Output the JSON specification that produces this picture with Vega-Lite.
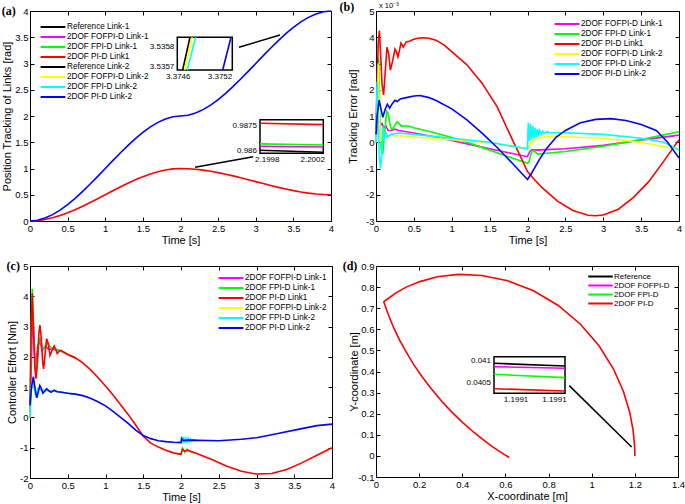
{
"$schema": "https://vega.github.io/schema/vega-lite/v6.json",
"background": "white",
"padding": {"left": 1, "top": 0, "right": 0, "bottom": 0},
"config": {
 "view": {"stroke": "black", "strokeWidth": 1},
 "font": "Liberation Sans",
 "axis": {"labelFont": "Liberation Sans", "labelFontSize": 9.5, "labelColor": "black", "titleFont": "Liberation Sans", "titleFontSize": 11, "titleFontWeight": "normal", "titleColor": "black", "domainColor": "black", "domainWidth": 1, "tickColor": "black", "tickSize": -4, "tickWidth": 1, "grid": false, "labelPadding": 6, "titlePadding": 2, "labelFlush": false, "labelOverlap": false, "minExtent": 0},
 "legend": {"orient": "none", "direction": "vertical", "symbolType": "M-3.1,0L3.1,0", "symbolSize": 64, "symbolStrokeWidth": 2, "labelFont": "Liberation Sans", "labelFontSize": 8.2, "labelColor": "black", "labelOffset": 9, "rowPadding": 1, "padding": 0, "labelLimit": 300},
 "title": {"font": "Liberation Serif", "fontSize": 12, "fontWeight": "bold", "anchor": "start", "frame": "bounds", "offset": -12, "color": "black"},
 "text": {"font": "Liberation Sans", "fontSize": 8, "color": "black"}
},
"datasets": {
 "a": [
  {"t":0,"v":0,"s":"2DOF PI-D Link1"},{"t":0.1,"v":0.00725,"s":"2DOF PI-D Link1"},{"t":0.2,"v":0.028,"s":"2DOF PI-D Link1"},{"t":0.3,"v":0.06075,"s":"2DOF PI-D Link1"},{"t":0.4,"v":0.104,"s":"2DOF PI-D Link1"},{"t":0.5,"v":0.15625,"s":"2DOF PI-D Link1"},{"t":0.6,"v":0.216,"s":"2DOF PI-D Link1"},{"t":0.7,"v":0.28175,"s":"2DOF PI-D Link1"},{"t":0.8,"v":0.352,"s":"2DOF PI-D Link1"},{"t":0.9,"v":0.42525,"s":"2DOF PI-D Link1"},{"t":1.0,"v":0.5,"s":"2DOF PI-D Link1"},{"t":1.1,"v":0.57475,"s":"2DOF PI-D Link1"},{"t":1.2,"v":0.648,"s":"2DOF PI-D Link1"},{"t":1.3,"v":0.71825,"s":"2DOF PI-D Link1"},{"t":1.4,"v":0.784,"s":"2DOF PI-D Link1"},{"t":1.5,"v":0.84375,"s":"2DOF PI-D Link1"},{"t":1.6,"v":0.896,"s":"2DOF PI-D Link1"},{"t":1.7,"v":0.93925,"s":"2DOF PI-D Link1"},{"t":1.8,"v":0.972,"s":"2DOF PI-D Link1"},{"t":1.9,"v":0.99275,"s":"2DOF PI-D Link1"},{"t":2.0,"v":1,"s":"2DOF PI-D Link1"},{"t":2.1,"v":0.99637,"s":"2DOF PI-D Link1"},{"t":2.2,"v":0.986,"s":"2DOF PI-D Link1"},{"t":2.3,"v":0.96962,"s":"2DOF PI-D Link1"},{"t":2.4,"v":0.948,"s":"2DOF PI-D Link1"},{"t":2.5,"v":0.92188,"s":"2DOF PI-D Link1"},{"t":2.6,"v":0.892,"s":"2DOF PI-D Link1"},{"t":2.7,"v":0.85913,"s":"2DOF PI-D Link1"},{"t":2.8,"v":0.824,"s":"2DOF PI-D Link1"},{"t":2.9,"v":0.78738,"s":"2DOF PI-D Link1"},{"t":3.0,"v":0.75,"s":"2DOF PI-D Link1"},{"t":3.1,"v":0.71263,"s":"2DOF PI-D Link1"},{"t":3.2,"v":0.676,"s":"2DOF PI-D Link1"},{"t":3.3,"v":0.64088,"s":"2DOF PI-D Link1"},{"t":3.4,"v":0.608,"s":"2DOF PI-D Link1"},{"t":3.5,"v":0.57813,"s":"2DOF PI-D Link1"},{"t":3.6,"v":0.552,"s":"2DOF PI-D Link1"},{"t":3.7,"v":0.53038,"s":"2DOF PI-D Link1"},{"t":3.8,"v":0.514,"s":"2DOF PI-D Link1"},{"t":3.9,"v":0.50363,"s":"2DOF PI-D Link1"},{"t":4.0,"v":0.5,"s":"2DOF PI-D Link1"},
  {"t":0,"v":0,"s":"2DOF PI-D Link-2"},{"t":0.1,"v":0.0145,"s":"2DOF PI-D Link-2"},{"t":0.2,"v":0.056,"s":"2DOF PI-D Link-2"},{"t":0.3,"v":0.1215,"s":"2DOF PI-D Link-2"},{"t":0.4,"v":0.208,"s":"2DOF PI-D Link-2"},{"t":0.5,"v":0.3125,"s":"2DOF PI-D Link-2"},{"t":0.6,"v":0.432,"s":"2DOF PI-D Link-2"},{"t":0.7,"v":0.5635,"s":"2DOF PI-D Link-2"},{"t":0.8,"v":0.704,"s":"2DOF PI-D Link-2"},{"t":0.9,"v":0.8505,"s":"2DOF PI-D Link-2"},{"t":1.0,"v":1,"s":"2DOF PI-D Link-2"},{"t":1.1,"v":1.1495,"s":"2DOF PI-D Link-2"},{"t":1.2,"v":1.296,"s":"2DOF PI-D Link-2"},{"t":1.3,"v":1.4365,"s":"2DOF PI-D Link-2"},{"t":1.4,"v":1.568,"s":"2DOF PI-D Link-2"},{"t":1.5,"v":1.6875,"s":"2DOF PI-D Link-2"},{"t":1.6,"v":1.792,"s":"2DOF PI-D Link-2"},{"t":1.7,"v":1.8785,"s":"2DOF PI-D Link-2"},{"t":1.8,"v":1.944,"s":"2DOF PI-D Link-2"},{"t":1.9,"v":1.9855,"s":"2DOF PI-D Link-2"},{"t":2.0,"v":2,"s":"2DOF PI-D Link-2"},{"t":2.1,"v":2.0145,"s":"2DOF PI-D Link-2"},{"t":2.2,"v":2.056,"s":"2DOF PI-D Link-2"},{"t":2.3,"v":2.1215,"s":"2DOF PI-D Link-2"},{"t":2.4,"v":2.208,"s":"2DOF PI-D Link-2"},{"t":2.5,"v":2.3125,"s":"2DOF PI-D Link-2"},{"t":2.6,"v":2.432,"s":"2DOF PI-D Link-2"},{"t":2.7,"v":2.5635,"s":"2DOF PI-D Link-2"},{"t":2.8,"v":2.704,"s":"2DOF PI-D Link-2"},{"t":2.9,"v":2.8505,"s":"2DOF PI-D Link-2"},{"t":3.0,"v":3,"s":"2DOF PI-D Link-2"},{"t":3.1,"v":3.1495,"s":"2DOF PI-D Link-2"},{"t":3.2,"v":3.296,"s":"2DOF PI-D Link-2"},{"t":3.3,"v":3.4365,"s":"2DOF PI-D Link-2"},{"t":3.4,"v":3.568,"s":"2DOF PI-D Link-2"},{"t":3.5,"v":3.6875,"s":"2DOF PI-D Link-2"},{"t":3.6,"v":3.792,"s":"2DOF PI-D Link-2"},{"t":3.7,"v":3.8785,"s":"2DOF PI-D Link-2"},{"t":3.8,"v":3.944,"s":"2DOF PI-D Link-2"},{"t":3.9,"v":3.9855,"s":"2DOF PI-D Link-2"},{"t":4.0,"v":4,"s":"2DOF PI-D Link-2"}
 ],
 "b": [
  {"t":0,"v":0,"s":"2DOF FOFPI-D Link-1"},{"t":0.02,"v":0.9,"s":"2DOF FOFPI-D Link-1"},{"t":0.04,"v":0.3,"s":"2DOF FOFPI-D Link-1"},{"t":0.06,"v":0.65,"s":"2DOF FOFPI-D Link-1"},{"t":0.08,"v":0.72,"s":"2DOF FOFPI-D Link-1"},{"t":0.1,"v":0.55,"s":"2DOF FOFPI-D Link-1"},{"t":0.13,"v":0.62,"s":"2DOF FOFPI-D Link-1"},{"t":0.16,"v":0.45,"s":"2DOF FOFPI-D Link-1"},{"t":0.2,"v":0.45,"s":"2DOF FOFPI-D Link-1"},{"t":0.25,"v":0.5,"s":"2DOF FOFPI-D Link-1"},{"t":0.3,"v":0.45,"s":"2DOF FOFPI-D Link-1"},{"t":0.4,"v":0.4,"s":"2DOF FOFPI-D Link-1"},{"t":0.5,"v":0.35,"s":"2DOF FOFPI-D Link-1"},{"t":0.75,"v":0.22,"s":"2DOF FOFPI-D Link-1"},{"t":1.0,"v":0.07,"s":"2DOF FOFPI-D Link-1"},{"t":1.25,"v":-0.09,"s":"2DOF FOFPI-D Link-1"},{"t":1.5,"v":-0.25,"s":"2DOF FOFPI-D Link-1"},{"t":1.75,"v":-0.4,"s":"2DOF FOFPI-D Link-1"},{"t":2.0,"v":-0.55,"s":"2DOF FOFPI-D Link-1"},{"t":2.03,"v":-0.35,"s":"2DOF FOFPI-D Link-1"},{"t":2.06,"v":-0.28,"s":"2DOF FOFPI-D Link-1"},{"t":2.1,"v":-0.3,"s":"2DOF FOFPI-D Link-1"},{"t":2.5,"v":-0.25,"s":"2DOF FOFPI-D Link-1"},{"t":3.0,"v":-0.12,"s":"2DOF FOFPI-D Link-1"},{"t":3.5,"v":0.08,"s":"2DOF FOFPI-D Link-1"},{"t":4.0,"v":0.27,"s":"2DOF FOFPI-D Link-1"},
  {"t":0,"v":0,"s":"2DOF FPI-D Link-1"},{"t":0.02,"v":1.5,"s":"2DOF FPI-D Link-1"},{"t":0.035,"v":3.2,"s":"2DOF FPI-D Link-1"},{"t":0.05,"v":1.0,"s":"2DOF FPI-D Link-1"},{"t":0.07,"v":-0.3,"s":"2DOF FPI-D Link-1"},{"t":0.09,"v":-0.4,"s":"2DOF FPI-D Link-1"},{"t":0.11,"v":0.2,"s":"2DOF FPI-D Link-1"},{"t":0.14,"v":1.18,"s":"2DOF FPI-D Link-1"},{"t":0.16,"v":1.1,"s":"2DOF FPI-D Link-1"},{"t":0.19,"v":0.6,"s":"2DOF FPI-D Link-1"},{"t":0.21,"v":0.48,"s":"2DOF FPI-D Link-1"},{"t":0.24,"v":0.6,"s":"2DOF FPI-D Link-1"},{"t":0.28,"v":0.78,"s":"2DOF FPI-D Link-1"},{"t":0.31,"v":0.7,"s":"2DOF FPI-D Link-1"},{"t":0.34,"v":0.6,"s":"2DOF FPI-D Link-1"},{"t":0.38,"v":0.63,"s":"2DOF FPI-D Link-1"},{"t":0.45,"v":0.6,"s":"2DOF FPI-D Link-1"},{"t":0.5,"v":0.55,"s":"2DOF FPI-D Link-1"},{"t":0.75,"v":0.38,"s":"2DOF FPI-D Link-1"},{"t":1.0,"v":0.18,"s":"2DOF FPI-D Link-1"},{"t":1.25,"v":-0.05,"s":"2DOF FPI-D Link-1"},{"t":1.5,"v":-0.3,"s":"2DOF FPI-D Link-1"},{"t":1.75,"v":-0.55,"s":"2DOF FPI-D Link-1"},{"t":2.0,"v":-0.8,"s":"2DOF FPI-D Link-1"},{"t":2.02,"v":-0.75,"s":"2DOF FPI-D Link-1"},{"t":2.05,"v":-0.4,"s":"2DOF FPI-D Link-1"},{"t":2.08,"v":-0.32,"s":"2DOF FPI-D Link-1"},{"t":2.14,"v":-0.45,"s":"2DOF FPI-D Link-1"},{"t":2.25,"v":-0.42,"s":"2DOF FPI-D Link-1"},{"t":2.5,"v":-0.35,"s":"2DOF FPI-D Link-1"},{"t":3.0,"v":-0.15,"s":"2DOF FPI-D Link-1"},{"t":3.5,"v":0.1,"s":"2DOF FPI-D Link-1"},{"t":3.8,"v":0.28,"s":"2DOF FPI-D Link-1"},{"t":4.0,"v":0.4,"s":"2DOF FPI-D Link-1"},
  {"t":0,"v":0.5,"s":"2DOF PI-D Link1"},{"t":0.015,"v":2.4,"s":"2DOF PI-D Link1"},{"t":0.03,"v":3.8,"s":"2DOF PI-D Link1"},{"t":0.045,"v":4.25,"s":"2DOF PI-D Link1"},{"t":0.06,"v":3.4,"s":"2DOF PI-D Link1"},{"t":0.08,"v":2.2,"s":"2DOF PI-D Link1"},{"t":0.1,"v":1.8,"s":"2DOF PI-D Link1"},{"t":0.12,"v":2.6,"s":"2DOF PI-D Link1"},{"t":0.145,"v":3.62,"s":"2DOF PI-D Link1"},{"t":0.165,"v":3.4,"s":"2DOF PI-D Link1"},{"t":0.19,"v":2.75,"s":"2DOF PI-D Link1"},{"t":0.22,"v":3.1,"s":"2DOF PI-D Link1"},{"t":0.25,"v":3.55,"s":"2DOF PI-D Link1"},{"t":0.27,"v":3.45,"s":"2DOF PI-D Link1"},{"t":0.29,"v":3.25,"s":"2DOF PI-D Link1"},{"t":0.31,"v":3.5,"s":"2DOF PI-D Link1"},{"t":0.33,"v":3.78,"s":"2DOF PI-D Link1"},{"t":0.36,"v":3.62,"s":"2DOF PI-D Link1"},{"t":0.4,"v":3.82,"s":"2DOF PI-D Link1"},{"t":0.44,"v":3.85,"s":"2DOF PI-D Link1"},{"t":0.5,"v":3.92,"s":"2DOF PI-D Link1"},{"t":0.55,"v":3.96,"s":"2DOF PI-D Link1"},{"t":0.62,"v":3.98,"s":"2DOF PI-D Link1"},{"t":0.7,"v":3.96,"s":"2DOF PI-D Link1"},{"t":0.8,"v":3.88,"s":"2DOF PI-D Link1"},{"t":0.9,"v":3.7,"s":"2DOF PI-D Link1"},{"t":1.0,"v":3.45,"s":"2DOF PI-D Link1"},{"t":1.2,"v":2.95,"s":"2DOF PI-D Link1"},{"t":1.4,"v":2.25,"s":"2DOF PI-D Link1"},{"t":1.6,"v":1.35,"s":"2DOF PI-D Link1"},{"t":1.8,"v":0.1,"s":"2DOF PI-D Link1"},{"t":1.9,"v":-0.5,"s":"2DOF PI-D Link1"},{"t":2.0,"v":-1.12,"s":"2DOF PI-D Link1"},{"t":2.1,"v":-1.45,"s":"2DOF PI-D Link1"},{"t":2.2,"v":-1.75,"s":"2DOF PI-D Link1"},{"t":2.4,"v":-2.25,"s":"2DOF PI-D Link1"},{"t":2.6,"v":-2.6,"s":"2DOF PI-D Link1"},{"t":2.8,"v":-2.78,"s":"2DOF PI-D Link1"},{"t":2.9,"v":-2.8,"s":"2DOF PI-D Link1"},{"t":3.0,"v":-2.77,"s":"2DOF PI-D Link1"},{"t":3.2,"v":-2.55,"s":"2DOF PI-D Link1"},{"t":3.4,"v":-2.1,"s":"2DOF PI-D Link1"},{"t":3.6,"v":-1.5,"s":"2DOF PI-D Link1"},{"t":3.8,"v":-0.72,"s":"2DOF PI-D Link1"},{"t":4.0,"v":0.1,"s":"2DOF PI-D Link1"},
  {"t":0,"v":0,"s":"2DOF FOFPI-D Link-2"},{"t":0.02,"v":1.5,"s":"2DOF FOFPI-D Link-2"},{"t":0.03,"v":3.0,"s":"2DOF FOFPI-D Link-2"},{"t":0.045,"v":1.0,"s":"2DOF FOFPI-D Link-2"},{"t":0.06,"v":0.0,"s":"2DOF FOFPI-D Link-2"},{"t":0.08,"v":0.3,"s":"2DOF FOFPI-D Link-2"},{"t":0.1,"v":0.3,"s":"2DOF FOFPI-D Link-2"},{"t":0.15,"v":0.25,"s":"2DOF FOFPI-D Link-2"},{"t":0.3,"v":0.25,"s":"2DOF FOFPI-D Link-2"},{"t":0.5,"v":0.2,"s":"2DOF FOFPI-D Link-2"},{"t":1.0,"v":0.1,"s":"2DOF FOFPI-D Link-2"},{"t":1.5,"v":-0.02,"s":"2DOF FOFPI-D Link-2"},{"t":2.0,"v":-0.25,"s":"2DOF FOFPI-D Link-2"},{"t":2.02,"v":-0.15,"s":"2DOF FOFPI-D Link-2"},{"t":2.05,"v":0.0,"s":"2DOF FOFPI-D Link-2"},{"t":2.1,"v":0.12,"s":"2DOF FOFPI-D Link-2"},{"t":2.2,"v":0.2,"s":"2DOF FOFPI-D Link-2"},{"t":2.4,"v":0.22,"s":"2DOF FOFPI-D Link-2"},{"t":3.0,"v":0.15,"s":"2DOF FOFPI-D Link-2"},{"t":3.5,"v":0.0,"s":"2DOF FOFPI-D Link-2"},{"t":4.0,"v":-0.28,"s":"2DOF FOFPI-D Link-2"},
  {"t":0,"v":0,"s":"2DOF FPI-D Link-2"},{"t":0.015,"v":2.3,"s":"2DOF FPI-D Link-2"},{"t":0.03,"v":0.5,"s":"2DOF FPI-D Link-2"},{"t":0.045,"v":-0.6,"s":"2DOF FPI-D Link-2"},{"t":0.06,"v":-1.0,"s":"2DOF FPI-D Link-2"},{"t":0.075,"v":-0.5,"s":"2DOF FPI-D Link-2"},{"t":0.09,"v":0.6,"s":"2DOF FPI-D Link-2"},{"t":0.11,"v":0.1,"s":"2DOF FPI-D Link-2"},{"t":0.13,"v":0.4,"s":"2DOF FPI-D Link-2"},{"t":0.15,"v":0.2,"s":"2DOF FPI-D Link-2"},{"t":0.2,"v":0.3,"s":"2DOF FPI-D Link-2"},{"t":0.3,"v":0.35,"s":"2DOF FPI-D Link-2"},{"t":0.5,"v":0.3,"s":"2DOF FPI-D Link-2"},{"t":1.0,"v":0.15,"s":"2DOF FPI-D Link-2"},{"t":1.5,"v":0.0,"s":"2DOF FPI-D Link-2"},{"t":2.0,"v":-0.25,"s":"2DOF FPI-D Link-2"},{"t":2.01,"v":0.75,"s":"2DOF FPI-D Link-2"},{"t":2.025,"v":0.05,"s":"2DOF FPI-D Link-2"},{"t":2.04,"v":0.7,"s":"2DOF FPI-D Link-2"},{"t":2.055,"v":0.1,"s":"2DOF FPI-D Link-2"},{"t":2.07,"v":0.62,"s":"2DOF FPI-D Link-2"},{"t":2.085,"v":0.15,"s":"2DOF FPI-D Link-2"},{"t":2.1,"v":0.55,"s":"2DOF FPI-D Link-2"},{"t":2.115,"v":0.2,"s":"2DOF FPI-D Link-2"},{"t":2.13,"v":0.5,"s":"2DOF FPI-D Link-2"},{"t":2.145,"v":0.25,"s":"2DOF FPI-D Link-2"},{"t":2.16,"v":0.45,"s":"2DOF FPI-D Link-2"},{"t":2.18,"v":0.3,"s":"2DOF FPI-D Link-2"},{"t":2.2,"v":0.42,"s":"2DOF FPI-D Link-2"},{"t":2.22,"v":0.33,"s":"2DOF FPI-D Link-2"},{"t":2.25,"v":0.4,"s":"2DOF FPI-D Link-2"},{"t":2.3,"v":0.36,"s":"2DOF FPI-D Link-2"},{"t":2.5,"v":0.36,"s":"2DOF FPI-D Link-2"},{"t":3.0,"v":0.3,"s":"2DOF FPI-D Link-2"},{"t":3.5,"v":0.15,"s":"2DOF FPI-D Link-2"},{"t":3.8,"v":0.0,"s":"2DOF FPI-D Link-2"},{"t":4.0,"v":-0.3,"s":"2DOF FPI-D Link-2"},
  {"t":0,"v":0.3,"s":"2DOF PI-D Link-2"},{"t":0.015,"v":1.0,"s":"2DOF PI-D Link-2"},{"t":0.04,"v":1.6,"s":"2DOF PI-D Link-2"},{"t":0.06,"v":1.35,"s":"2DOF PI-D Link-2"},{"t":0.09,"v":0.95,"s":"2DOF PI-D Link-2"},{"t":0.12,"v":1.25,"s":"2DOF PI-D Link-2"},{"t":0.15,"v":1.45,"s":"2DOF PI-D Link-2"},{"t":0.18,"v":1.3,"s":"2DOF PI-D Link-2"},{"t":0.21,"v":1.45,"s":"2DOF PI-D Link-2"},{"t":0.25,"v":1.6,"s":"2DOF PI-D Link-2"},{"t":0.28,"v":1.55,"s":"2DOF PI-D Link-2"},{"t":0.32,"v":1.65,"s":"2DOF PI-D Link-2"},{"t":0.4,"v":1.7,"s":"2DOF PI-D Link-2"},{"t":0.5,"v":1.76,"s":"2DOF PI-D Link-2"},{"t":0.58,"v":1.78,"s":"2DOF PI-D Link-2"},{"t":0.7,"v":1.7,"s":"2DOF PI-D Link-2"},{"t":0.8,"v":1.58,"s":"2DOF PI-D Link-2"},{"t":1.0,"v":1.27,"s":"2DOF PI-D Link-2"},{"t":1.2,"v":0.85,"s":"2DOF PI-D Link-2"},{"t":1.4,"v":0.35,"s":"2DOF PI-D Link-2"},{"t":1.6,"v":-0.2,"s":"2DOF PI-D Link-2"},{"t":1.8,"v":-0.8,"s":"2DOF PI-D Link-2"},{"t":2.0,"v":-1.42,"s":"2DOF PI-D Link-2"},{"t":2.05,"v":-1.2,"s":"2DOF PI-D Link-2"},{"t":2.1,"v":-0.95,"s":"2DOF PI-D Link-2"},{"t":2.16,"v":-0.64,"s":"2DOF PI-D Link-2"},{"t":2.25,"v":-0.25,"s":"2DOF PI-D Link-2"},{"t":2.38,"v":0.2,"s":"2DOF PI-D Link-2"},{"t":2.5,"v":0.45,"s":"2DOF PI-D Link-2"},{"t":2.7,"v":0.74,"s":"2DOF PI-D Link-2"},{"t":2.9,"v":0.87,"s":"2DOF PI-D Link-2"},{"t":3.1,"v":0.9,"s":"2DOF PI-D Link-2"},{"t":3.3,"v":0.83,"s":"2DOF PI-D Link-2"},{"t":3.5,"v":0.68,"s":"2DOF PI-D Link-2"},{"t":3.7,"v":0.45,"s":"2DOF PI-D Link-2"},{"t":3.85,"v":0.0,"s":"2DOF PI-D Link-2"},{"t":4.0,"v":-0.6,"s":"2DOF PI-D Link-2"}
 ],
 "c": [
  {"t":0,"v":0,"s":"2DOF FOFPI-D Link-1"},{"t":0.015,"v":1.5,"s":"2DOF FOFPI-D Link-1"},{"t":0.035,"v":3.5,"s":"2DOF FOFPI-D Link-1"},{"t":0.05,"v":2.6,"s":"2DOF FOFPI-D Link-1"},{"t":0.07,"v":1.6,"s":"2DOF FOFPI-D Link-1"},{"t":0.1,"v":2.3,"s":"2DOF FOFPI-D Link-1"},{"t":0.13,"v":2.55,"s":"2DOF FOFPI-D Link-1"},{"t":0.16,"v":2.2,"s":"2DOF FOFPI-D Link-1"},{"t":0.2,"v":2.35,"s":"2DOF FOFPI-D Link-1"},{"t":0.25,"v":2.25,"s":"2DOF FOFPI-D Link-1"},{"t":0.3,"v":2.25,"s":"2DOF FOFPI-D Link-1"},{"t":0.4,"v":2.2,"s":"2DOF FOFPI-D Link-1"},{"t":0.5,"v":2.08,"s":"2DOF FOFPI-D Link-1"},{"t":0.6,"v":1.97,"s":"2DOF FOFPI-D Link-1"},
  {"t":0,"v":0,"s":"2DOF FPI-D Link-1"},{"t":0.012,"v":2.6,"s":"2DOF FPI-D Link-1"},{"t":0.03,"v":4.25,"s":"2DOF FPI-D Link-1"},{"t":0.045,"v":3.2,"s":"2DOF FPI-D Link-1"},{"t":0.07,"v":1.7,"s":"2DOF FPI-D Link-1"},{"t":0.09,"v":1.6,"s":"2DOF FPI-D Link-1"},{"t":0.12,"v":2.6,"s":"2DOF FPI-D Link-1"},{"t":0.14,"v":2.6,"s":"2DOF FPI-D Link-1"},{"t":0.16,"v":2.25,"s":"2DOF FPI-D Link-1"},{"t":0.19,"v":2.3,"s":"2DOF FPI-D Link-1"},{"t":0.23,"v":2.45,"s":"2DOF FPI-D Link-1"},{"t":0.28,"v":2.3,"s":"2DOF FPI-D Link-1"},{"t":0.35,"v":2.25,"s":"2DOF FPI-D Link-1"},{"t":0.45,"v":2.15,"s":"2DOF FPI-D Link-1"},{"t":0.5,"v":2.08,"s":"2DOF FPI-D Link-1"},{"t":0.6,"v":1.97,"s":"2DOF FPI-D Link-1"},
  {"t":1.95,"v":-1.2,"s":"2DOF FPI-D Link-1","p":2},{"t":2.0,"v":-1.22,"s":"2DOF FPI-D Link-1","p":2},{"t":2.02,"v":-1.02,"s":"2DOF FPI-D Link-1","p":2},{"t":2.05,"v":-1.15,"s":"2DOF FPI-D Link-1","p":2},{"t":2.08,"v":-1.05,"s":"2DOF FPI-D Link-1","p":2},{"t":2.12,"v":-1.12,"s":"2DOF FPI-D Link-1","p":2},{"t":2.2,"v":-1.18,"s":"2DOF FPI-D Link-1","p":2},
  {"t":0,"v":0,"s":"2DOF PI-D Link1"},{"t":0.012,"v":2.5,"s":"2DOF PI-D Link1"},{"t":0.03,"v":4.1,"s":"2DOF PI-D Link1"},{"t":0.045,"v":3.0,"s":"2DOF PI-D Link1"},{"t":0.065,"v":1.6,"s":"2DOF PI-D Link1"},{"t":0.08,"v":1.28,"s":"2DOF PI-D Link1"},{"t":0.1,"v":1.9,"s":"2DOF PI-D Link1"},{"t":0.118,"v":2.8,"s":"2DOF PI-D Link1"},{"t":0.132,"v":3.05,"s":"2DOF PI-D Link1"},{"t":0.15,"v":2.6,"s":"2DOF PI-D Link1"},{"t":0.168,"v":1.8,"s":"2DOF PI-D Link1"},{"t":0.18,"v":1.6,"s":"2DOF PI-D Link1"},{"t":0.2,"v":2.1,"s":"2DOF PI-D Link1"},{"t":0.22,"v":2.6,"s":"2DOF PI-D Link1"},{"t":0.24,"v":2.45,"s":"2DOF PI-D Link1"},{"t":0.265,"v":2.05,"s":"2DOF PI-D Link1"},{"t":0.29,"v":2.2,"s":"2DOF PI-D Link1"},{"t":0.32,"v":2.36,"s":"2DOF PI-D Link1"},{"t":0.34,"v":2.25,"s":"2DOF PI-D Link1"},{"t":0.36,"v":2.11,"s":"2DOF PI-D Link1"},{"t":0.385,"v":2.18,"s":"2DOF PI-D Link1"},{"t":0.41,"v":2.22,"s":"2DOF PI-D Link1"},{"t":0.45,"v":2.15,"s":"2DOF PI-D Link1"},{"t":0.5,"v":2.08,"s":"2DOF PI-D Link1"},{"t":0.6,"v":1.97,"s":"2DOF PI-D Link1"},{"t":0.7,"v":1.8,"s":"2DOF PI-D Link1"},{"t":0.8,"v":1.58,"s":"2DOF PI-D Link1"},{"t":0.9,"v":1.32,"s":"2DOF PI-D Link1"},{"t":1.0,"v":1.04,"s":"2DOF PI-D Link1"},{"t":1.1,"v":0.74,"s":"2DOF PI-D Link1"},{"t":1.2,"v":0.42,"s":"2DOF PI-D Link1"},{"t":1.3,"v":0.1,"s":"2DOF PI-D Link1"},{"t":1.4,"v":-0.25,"s":"2DOF PI-D Link1"},{"t":1.5,"v":-0.62,"s":"2DOF PI-D Link1"},{"t":1.6,"v":-0.85,"s":"2DOF PI-D Link1"},{"t":1.7,"v":-0.98,"s":"2DOF PI-D Link1"},{"t":1.8,"v":-1.08,"s":"2DOF PI-D Link1"},{"t":1.9,"v":-1.17,"s":"2DOF PI-D Link1"},{"t":2.0,"v":-1.22,"s":"2DOF PI-D Link1"},{"t":2.02,"v":-1.05,"s":"2DOF PI-D Link1"},{"t":2.05,"v":-1.12,"s":"2DOF PI-D Link1"},{"t":2.08,"v":-1.08,"s":"2DOF PI-D Link1"},{"t":2.2,"v":-1.18,"s":"2DOF PI-D Link1"},{"t":2.4,"v":-1.38,"s":"2DOF PI-D Link1"},{"t":2.6,"v":-1.6,"s":"2DOF PI-D Link1"},{"t":2.8,"v":-1.78,"s":"2DOF PI-D Link1"},{"t":3.0,"v":-1.87,"s":"2DOF PI-D Link1"},{"t":3.2,"v":-1.85,"s":"2DOF PI-D Link1"},{"t":3.4,"v":-1.72,"s":"2DOF PI-D Link1"},{"t":3.6,"v":-1.5,"s":"2DOF PI-D Link1"},{"t":3.8,"v":-1.25,"s":"2DOF PI-D Link1"},{"t":4.0,"v":-1.0,"s":"2DOF PI-D Link1"},
  {"t":0,"v":0,"s":"2DOF FOFPI-D Link-2"},{"t":0.015,"v":0.8,"s":"2DOF FOFPI-D Link-2"},{"t":0.035,"v":1.25,"s":"2DOF FOFPI-D Link-2"},{"t":0.06,"v":0.85,"s":"2DOF FOFPI-D Link-2"},{"t":0.09,"v":0.75,"s":"2DOF FOFPI-D Link-2"},{"t":0.13,"v":0.95,"s":"2DOF FOFPI-D Link-2"},{"t":0.2,"v":0.88,"s":"2DOF FOFPI-D Link-2"},{"t":0.3,"v":0.87,"s":"2DOF FOFPI-D Link-2"},{"t":0.4,"v":0.83,"s":"2DOF FOFPI-D Link-2"},{"t":0.5,"v":0.8,"s":"2DOF FOFPI-D Link-2"},{"t":0.6,"v":0.77,"s":"2DOF FOFPI-D Link-2"},
  {"t":1.95,"v":-0.81,"s":"2DOF FOFPI-D Link-2","p":2},{"t":2.0,"v":-0.82,"s":"2DOF FOFPI-D Link-2","p":2},{"t":2.015,"v":-0.7,"s":"2DOF FOFPI-D Link-2","p":2},{"t":2.04,"v":-0.78,"s":"2DOF FOFPI-D Link-2","p":2},{"t":2.07,"v":-0.73,"s":"2DOF FOFPI-D Link-2","p":2},{"t":2.12,"v":-0.76,"s":"2DOF FOFPI-D Link-2","p":2},{"t":2.2,"v":-0.75,"s":"2DOF FOFPI-D Link-2","p":2},
  {"t":0,"v":0,"s":"2DOF FPI-D Link-2"},{"t":0.02,"v":1.1,"s":"2DOF FPI-D Link-2"},{"t":0.04,"v":1.25,"s":"2DOF FPI-D Link-2"},{"t":0.07,"v":0.75,"s":"2DOF FPI-D Link-2"},{"t":0.1,"v":0.95,"s":"2DOF FPI-D Link-2"},{"t":0.15,"v":0.9,"s":"2DOF FPI-D Link-2"},{"t":0.3,"v":0.88,"s":"2DOF FPI-D Link-2"},{"t":0.5,"v":0.8,"s":"2DOF FPI-D Link-2"},{"t":0.6,"v":0.77,"s":"2DOF FPI-D Link-2"},
  {"t":1.95,"v":-0.81,"s":"2DOF FPI-D Link-2","p":2},{"t":2.0,"v":-0.82,"s":"2DOF FPI-D Link-2","p":2},{"t":2.008,"v":-0.62,"s":"2DOF FPI-D Link-2","p":2},{"t":2.02,"v":-0.86,"s":"2DOF FPI-D Link-2","p":2},{"t":2.035,"v":-0.64,"s":"2DOF FPI-D Link-2","p":2},{"t":2.05,"v":-0.84,"s":"2DOF FPI-D Link-2","p":2},{"t":2.065,"v":-0.67,"s":"2DOF FPI-D Link-2","p":2},{"t":2.08,"v":-0.82,"s":"2DOF FPI-D Link-2","p":2},{"t":2.095,"v":-0.69,"s":"2DOF FPI-D Link-2","p":2},{"t":2.11,"v":-0.8,"s":"2DOF FPI-D Link-2","p":2},{"t":2.125,"v":-0.71,"s":"2DOF FPI-D Link-2","p":2},{"t":2.14,"v":-0.78,"s":"2DOF FPI-D Link-2","p":2},{"t":2.16,"v":-0.73,"s":"2DOF FPI-D Link-2","p":2},{"t":2.2,"v":-0.75,"s":"2DOF FPI-D Link-2","p":2},
  {"t":0,"v":0.4,"s":"2DOF PI-D Link-2"},{"t":0.02,"v":1.0,"s":"2DOF PI-D Link-2"},{"t":0.045,"v":1.35,"s":"2DOF PI-D Link-2"},{"t":0.07,"v":0.9,"s":"2DOF PI-D Link-2"},{"t":0.09,"v":0.65,"s":"2DOF PI-D Link-2"},{"t":0.11,"v":0.85,"s":"2DOF PI-D Link-2"},{"t":0.13,"v":1.05,"s":"2DOF PI-D Link-2"},{"t":0.15,"v":0.95,"s":"2DOF PI-D Link-2"},{"t":0.17,"v":0.8,"s":"2DOF PI-D Link-2"},{"t":0.2,"v":0.88,"s":"2DOF PI-D Link-2"},{"t":0.22,"v":0.95,"s":"2DOF PI-D Link-2"},{"t":0.25,"v":0.88,"s":"2DOF PI-D Link-2"},{"t":0.28,"v":0.83,"s":"2DOF PI-D Link-2"},{"t":0.32,"v":0.9,"s":"2DOF PI-D Link-2"},{"t":0.36,"v":0.85,"s":"2DOF PI-D Link-2"},{"t":0.4,"v":0.84,"s":"2DOF PI-D Link-2"},{"t":0.5,"v":0.8,"s":"2DOF PI-D Link-2"},{"t":0.6,"v":0.77,"s":"2DOF PI-D Link-2"},{"t":0.7,"v":0.72,"s":"2DOF PI-D Link-2"},{"t":0.8,"v":0.63,"s":"2DOF PI-D Link-2"},{"t":0.9,"v":0.52,"s":"2DOF PI-D Link-2"},{"t":1.0,"v":0.38,"s":"2DOF PI-D Link-2"},{"t":1.1,"v":0.2,"s":"2DOF PI-D Link-2"},{"t":1.2,"v":0.0,"s":"2DOF PI-D Link-2"},{"t":1.3,"v":-0.2,"s":"2DOF PI-D Link-2"},{"t":1.4,"v":-0.42,"s":"2DOF PI-D Link-2"},{"t":1.5,"v":-0.6,"s":"2DOF PI-D Link-2"},{"t":1.6,"v":-0.7,"s":"2DOF PI-D Link-2"},{"t":1.7,"v":-0.77,"s":"2DOF PI-D Link-2"},{"t":1.8,"v":-0.8,"s":"2DOF PI-D Link-2"},{"t":1.9,"v":-0.82,"s":"2DOF PI-D Link-2"},{"t":2.0,"v":-0.83,"s":"2DOF PI-D Link-2"},{"t":2.01,"v":-0.7,"s":"2DOF PI-D Link-2"},{"t":2.03,"v":-0.76,"s":"2DOF PI-D Link-2"},{"t":2.1,"v":-0.75,"s":"2DOF PI-D Link-2"},{"t":2.5,"v":-0.77,"s":"2DOF PI-D Link-2"},{"t":2.8,"v":-0.72,"s":"2DOF PI-D Link-2"},{"t":3.0,"v":-0.67,"s":"2DOF PI-D Link-2"},{"t":3.3,"v":-0.52,"s":"2DOF PI-D Link-2"},{"t":3.6,"v":-0.37,"s":"2DOF PI-D Link-2"},{"t":3.8,"v":-0.27,"s":"2DOF PI-D Link-2"},{"t":4.0,"v":-0.22,"s":"2DOF PI-D Link-2"}
 ],
 "d": [
  {"t":0,"x":1.2,"y":0,"s":"2DOF PI-D"},{"t":0.1,"x":1.19989,"y":0.0145,"s":"2DOF PI-D"},{"t":0.2,"x":1.1983,"y":0.056,"s":"2DOF PI-D"},{"t":0.3,"x":1.19191,"y":0.12107,"s":"2DOF PI-D"},{"t":0.4,"x":1.1764,"y":0.2058,"s":"2DOF PI-D"},{"t":0.5,"x":1.1471,"y":0.3052,"s":"2DOF PI-D"},{"t":0.6,"x":1.1003,"y":0.4129,"s":"2DOF PI-D"},{"t":0.7,"x":1.0339,"y":0.5217,"s":"2DOF PI-D"},{"t":0.8,"x":0.9477,"y":0.6241,"s":"2DOF PI-D"},{"t":0.9,"x":0.845,"y":0.7128,"s":"2DOF PI-D"},{"t":1.0,"x":0.7304,"y":0.7825,"s":"2DOF PI-D"},{"t":1.1,"x":0.6103,"y":0.8302,"s":"2DOF PI-D"},{"t":1.2,"x":0.492,"y":0.8553,"s":"2DOF PI-D"},{"t":1.3,"x":0.3818,"y":0.8602,"s":"2DOF PI-D"},{"t":1.4,"x":0.2848,"y":0.8489,"s":"2DOF PI-D"},{"t":1.5,"x":0.2034,"y":0.826,"s":"2DOF PI-D"},{"t":1.6,"x":0.1401,"y":0.7999,"s":"2DOF PI-D"},{"t":1.7,"x":0.0925,"y":0.7724,"s":"2DOF PI-D"},{"t":1.8,"x":0.0614,"y":0.7496,"s":"2DOF PI-D"},{"t":1.9,"x":0.0422,"y":0.7357,"s":"2DOF PI-D"},{"t":2.0,"x":0.0361,"y":0.7296,"s":"2DOF PI-D"},{"t":2.1,"x":0.0379,"y":0.7241,"s":"2DOF PI-D"},{"t":2.2,"x":0.044,"y":0.7065,"s":"2DOF PI-D"},{"t":2.3,"x":0.0537,"y":0.6795,"s":"2DOF PI-D"},{"t":2.4,"x":0.0671,"y":0.6438,"s":"2DOF PI-D"},{"t":2.5,"x":0.085,"y":0.6005,"s":"2DOF PI-D"},{"t":2.6,"x":0.1089,"y":0.55,"s":"2DOF PI-D"},{"t":2.7,"x":0.1377,"y":0.4967,"s":"2DOF PI-D"},{"t":2.8,"x":0.1734,"y":0.435,"s":"2DOF PI-D"},{"t":2.9,"x":0.2128,"y":0.3763,"s":"2DOF PI-D"},{"t":3.0,"x":0.2571,"y":0.3167,"s":"2DOF PI-D"},{"t":3.1,"x":0.3046,"y":0.2593,"s":"2DOF PI-D"},{"t":3.2,"x":0.3529,"y":0.2065,"s":"2DOF PI-D"},{"t":3.3,"x":0.4035,"y":0.1567,"s":"2DOF PI-D"},{"t":3.4,"x":0.452,"y":0.1133,"s":"2DOF PI-D"},{"t":3.5,"x":0.4967,"y":0.0767,"s":"2DOF PI-D"},{"t":3.6,"x":0.5363,"y":0.0467,"s":"2DOF PI-D"},{"t":3.7,"x":0.5706,"y":0.023,"s":"2DOF PI-D"},{"t":3.8,"x":0.5957,"y":0.0063,"s":"2DOF PI-D"},{"t":3.9,"x":0.6121,"y":-0.004,"s":"2DOF PI-D"},{"t":4.0,"x":0.6177,"y":-0.0075,"s":"2DOF PI-D"}
 ]
},
"columns": 2,
"align": "each",
"spacing": {"row": 13, "column": 3},
"resolve": {"scale": {"color": "independent"}, "legend": {"color": "independent"}},
"concat": [
 {
  "title": {"text": "(a)"},
  "width": 301, "height": 210,
  "layer": [
   {
    "layer": [
     {"data": {"name": "a"}, "mark": {"type": "line", "strokeWidth": 1.6},
      "encoding": {
       "x": {"field": "t", "type": "quantitative", "scale": {"domain": [0, 4], "nice": false}, "axis": {"orient": "bottom", "values": [0,0.5,1,1.5,2,2.5,3,3.5,4], "labelExpr": "''+datum.value", "title": "Time [s]"}},
       "y": {"field": "v", "type": "quantitative", "scale": {"domain": [0, 4], "nice": false}, "axis": {"orient": "left", "values": [0,0.5,1,1.5,2,2.5,3,3.5,4], "labelExpr": "''+datum.value", "title": "Position Tracking of Links [rad]"}},
       "color": {"field": "s", "type": "nominal", "scale": {"domain": ["Reference Link-1","2DOF FOFPI-D Link-1","2DOF FPI-D Link-1","2DOF PI-D Link1","Reference Link-2","2DOF FOFPI-D Link-2","2DOF FPI-D Link-2","2DOF PI-D Link-2"], "range": ["#000000","#ff00ff","#00ff00","#ff0000","#000000","#ffff00","#00ffff","#0000ff"]}, "legend": {"title": null, "legendX": 18, "legendY": 11}}
      }},
     {"data": {"values": [{"x": 2.193, "y": 1.023, "x2": 2.967, "y2": 1.225}, {"x": 2.777, "y": 3.309, "x2": 3.322, "y2": 3.543}]},
      "mark": {"type": "rule", "color": "black", "strokeWidth": 1.5},
      "encoding": {
       "x": {"field": "x", "type": "quantitative", "scale": {"domain": [0, 4], "nice": false}, "axis": {"orient": "top", "values": [0,0.5,1,1.5,2,2.5,3,3.5,4], "labels": false, "domain": false, "title": null}},
       "y": {"field": "y", "type": "quantitative", "scale": {"domain": [0, 4], "nice": false}, "axis": {"orient": "right", "values": [0,0.5,1,1.5,2,2.5,3,3.5,4], "labels": false, "domain": false, "title": null}},
       "x2": {"field": "x2"}, "y2": {"field": "y2"}
      }}
    ],
    "resolve": {"axis": {"x": "independent", "y": "independent"}}
   },
   {
    "layer": [
     {"data": {"values": [{"x": 3.374586, "x2": 3.375377, "y": 3.535687, "y2": 3.535846}]},
      "mark": {"type": "rect", "fill": "white", "stroke": "black", "strokeWidth": 1.5},
      "encoding": {
       "x": {"field": "x", "type": "quantitative", "scale": {"domain": [3.374586, 3.375377], "range": [147.3, 202.3], "nice": false, "zero": false}, "axis": null},
       "x2": {"field": "x2"},
       "y": {"field": "y", "type": "quantitative", "scale": {"domain": [3.535687, 3.535846], "range": [59, 26.3], "nice": false, "zero": false}, "axis": null},
       "y2": {"field": "y2"}
      }},
     {"data": {"values": [
       {"x": 3.374663, "y": 3.535687, "s": "Reference Link-2"}, {"x": 3.374768, "y": 3.535846, "s": "Reference Link-2"},
       {"x": 3.374692, "y": 3.535687, "s": "2DOF FOFPI-D Link-2"}, {"x": 3.374801, "y": 3.535846, "s": "2DOF FOFPI-D Link-2"},
       {"x": 3.374729, "y": 3.535687, "s": "2DOF FPI-D Link-2"}, {"x": 3.37485, "y": 3.535846, "s": "2DOF FPI-D Link-2"},
       {"x": 3.375239, "y": 3.535687, "s": "2DOF PI-D Link-2"}, {"x": 3.375358, "y": 3.535846, "s": "2DOF PI-D Link-2"}
      ]},
      "mark": {"type": "line", "strokeWidth": 1.6},
      "encoding": {
       "x": {"field": "x", "type": "quantitative", "scale": {"domain": [3.374586, 3.375377], "range": [147.3, 202.3], "nice": false, "zero": false}, "axis": null},
       "y": {"field": "y", "type": "quantitative", "scale": {"domain": [3.535687, 3.535846], "range": [59, 26.3], "nice": false, "zero": false}, "axis": null},
       "color": {"field": "s", "type": "nominal", "legend": null}
      }},
     {"data": {"values": [{"x": 3.3746, "y": 3.535687, "label": "3.3746"}, {"x": 3.3752, "y": 3.535687, "label": "3.3752"}]},
      "mark": {"type": "text", "align": "center", "baseline": "top", "dy": 3},
      "encoding": {
       "x": {"field": "x", "type": "quantitative", "scale": {"domain": [3.374586, 3.375377], "range": [147.3, 202.3], "nice": false, "zero": false}, "axis": null},
       "y": {"field": "y", "type": "quantitative", "scale": {"domain": [3.535687, 3.535846], "range": [59, 26.3], "nice": false, "zero": false}, "axis": null},
       "text": {"field": "label"}
      }},
     {"data": {"values": [{"x": 3.374586, "y": 3.5357, "label": "3.5357"}, {"x": 3.374586, "y": 3.5358, "label": "3.5358"}]},
      "mark": {"type": "text", "align": "right", "baseline": "middle", "dx": -3},
      "encoding": {
       "x": {"field": "x", "type": "quantitative", "scale": {"domain": [3.374586, 3.375377], "range": [147.3, 202.3], "nice": false, "zero": false}, "axis": null},
       "y": {"field": "y", "type": "quantitative", "scale": {"domain": [3.535687, 3.535846], "range": [59, 26.3], "nice": false, "zero": false}, "axis": null},
       "text": {"field": "label"}
      }}
    ]
   },
   {
    "layer": [
     {"data": {"values": [{"x": 2.199736, "x2": 2.200293, "y": 0.98588, "y2": 0.98785}]},
      "mark": {"type": "rect", "fill": "white", "stroke": "black", "strokeWidth": 1.5},
      "encoding": {
       "x": {"field": "x", "type": "quantitative", "scale": {"domain": [2.199736, 2.200293], "range": [230, 293.3], "nice": false, "zero": false}, "axis": null},
       "x2": {"field": "x2"},
       "y": {"field": "y", "type": "quantitative", "scale": {"domain": [0.98588, 0.98785], "range": [142.3, 108.7], "nice": false, "zero": false}, "axis": null},
       "y2": {"field": "y2"}
      }},
     {"data": {"values": [
       {"x": 2.199736, "y": 0.98606, "s": "Reference Link-1"}, {"x": 2.200293, "y": 0.98594, "s": "Reference Link-1"},
       {"x": 2.199736, "y": 0.98629, "s": "2DOF FOFPI-D Link-1"}, {"x": 2.200293, "y": 0.98625, "s": "2DOF FOFPI-D Link-1"},
       {"x": 2.199736, "y": 0.98643, "s": "2DOF FPI-D Link-1"}, {"x": 2.200293, "y": 0.98637, "s": "2DOF FPI-D Link-1"},
       {"x": 2.199736, "y": 0.98764, "s": "2DOF PI-D Link1"}, {"x": 2.200293, "y": 0.98756, "s": "2DOF PI-D Link1"}
      ]},
      "mark": {"type": "line", "strokeWidth": 1.6},
      "encoding": {
       "x": {"field": "x", "type": "quantitative", "scale": {"domain": [2.199736, 2.200293], "range": [230, 293.3], "nice": false, "zero": false}, "axis": null},
       "y": {"field": "y", "type": "quantitative", "scale": {"domain": [0.98588, 0.98785], "range": [142.3, 108.7], "nice": false, "zero": false}, "axis": null},
       "color": {"field": "s", "type": "nominal", "legend": null}
      }},
     {"data": {"values": [{"x": 2.1998, "y": 0.98588, "label": "2.1998"}, {"x": 2.2002, "y": 0.98588, "label": "2.2002"}]},
      "mark": {"type": "text", "align": "center", "baseline": "top", "dy": 3},
      "encoding": {
       "x": {"field": "x", "type": "quantitative", "scale": {"domain": [2.199736, 2.200293], "range": [230, 293.3], "nice": false, "zero": false}, "axis": null},
       "y": {"field": "y", "type": "quantitative", "scale": {"domain": [0.98588, 0.98785], "range": [142.3, 108.7], "nice": false, "zero": false}, "axis": null},
       "text": {"field": "label"}
      }},
     {"data": {"values": [{"x": 2.199736, "y": 0.986, "label": "0.986"}, {"x": 2.199736, "y": 0.9875, "label": "0.9875"}]},
      "mark": {"type": "text", "align": "right", "baseline": "middle", "dx": -3},
      "encoding": {
       "x": {"field": "x", "type": "quantitative", "scale": {"domain": [2.199736, 2.200293], "range": [230, 293.3], "nice": false, "zero": false}, "axis": null},
       "y": {"field": "y", "type": "quantitative", "scale": {"domain": [0.98588, 0.98785], "range": [142.3, 108.7], "nice": false, "zero": false}, "axis": null},
       "text": {"field": "label"}
      }}
    ]
   }
  ],
  "resolve": {"scale": {"x": "independent", "y": "independent"}}
 },
 {
  "title": {"text": "(b)", "dx": -8},
  "width": 303, "height": 210,
  "layer": [
   {"data": {"name": "b"}, "mark": {"type": "line", "strokeWidth": 1.6},
    "encoding": {
     "x": {"field": "t", "type": "quantitative", "scale": {"domain": [0, 4], "nice": false}, "axis": {"orient": "bottom", "values": [0,0.5,1,1.5,2,2.5,3,3.5,4], "labelExpr": "''+datum.value", "title": "Time [s]"}},
     "y": {"field": "v", "type": "quantitative", "scale": {"domain": [-3, 5], "nice": false}, "axis": {"orient": "left", "values": [-3,-2,-1,0,1,2,3,4,5], "labelExpr": "''+datum.value", "title": "Tracking Error [rad]", "titlePadding": 7}},
     "color": {"field": "s", "type": "nominal", "scale": {"domain": ["2DOF FOFPI-D Link-1","2DOF FPI-D Link-1","2DOF PI-D Link1","2DOF FOFPI-D Link-2","2DOF FPI-D Link-2","2DOF PI-D Link-2"], "range": ["#ff00ff","#00ff00","#ff0000","#ffff00","#00ffff","#0000ff"]}, "legend": {"title": null, "legendX": 186, "legendY": 8}}
    }},
   {"data": {"values": [{"label": "x 10⁻³"}]},
    "mark": {"type": "text", "align": "left", "baseline": "alphabetic", "dx": 3, "dy": -3, "fontSize": 7.5},
    "encoding": {
     "x": {"datum": 0, "type": "quantitative", "scale": {"domain": [0, 4], "nice": false}, "axis": {"orient": "top", "values": [0,0.5,1,1.5,2,2.5,3,3.5,4], "labels": false, "domain": false, "title": null}},
     "y": {"datum": 5, "type": "quantitative", "scale": {"domain": [-3, 5], "nice": false}, "axis": {"orient": "right", "values": [-3,-2,-1,0,1,2,3,4,5], "labels": false, "domain": false, "title": null}},
     "text": {"field": "label"}
    }}
  ],
  "resolve": {"axis": {"x": "independent", "y": "independent"}}
 },
 {
  "title": {"text": "(c)"},
  "width": 302, "height": 212,
  "layer": [
   {"data": {"name": "c"}, "mark": {"type": "line", "strokeWidth": 1.6},
    "encoding": {
     "x": {"field": "t", "type": "quantitative", "scale": {"domain": [0, 4], "nice": false}, "axis": {"orient": "bottom", "values": [0,0.5,1,1.5,2,2.5,3,3.5,4], "labelExpr": "''+datum.value", "title": "Time [s]"}},
     "y": {"field": "v", "type": "quantitative", "scale": {"domain": [-2, 5], "nice": false}, "axis": {"orient": "left", "values": [-2,-1,0,1,2,3,4,5], "labelExpr": "''+datum.value", "title": "Controller Effort [Nm]"}},
     "color": {"field": "s", "type": "nominal", "scale": {"domain": ["2DOF FOFPI-D Link-1","2DOF FPI-D Link-1","2DOF PI-D Link1","2DOF FOFPI-D Link-2","2DOF FPI-D Link-2","2DOF PI-D Link-2"], "range": ["#ff00ff","#00ff00","#ff0000","#ffff00","#00ffff","#0000ff"]}, "legend": {"title": null, "legendX": 196, "legendY": 7}},
     "detail": {"field": "p", "type": "nominal"}
    }},
   {"data": {"values": [{"label": ""}]},
    "mark": {"type": "text"},
    "encoding": {
     "x": {"datum": 0, "type": "quantitative", "scale": {"domain": [0, 4], "nice": false}, "axis": {"orient": "top", "values": [0,0.5,1,1.5,2,2.5,3,3.5,4], "labels": false, "domain": false, "title": null}},
     "y": {"datum": 0, "type": "quantitative", "scale": {"domain": [-2, 5], "nice": false}, "axis": {"orient": "right", "values": [-2,-1,0,1,2,3,4,5], "labels": false, "domain": false, "title": null}},
     "text": {"field": "label"}
    }}
  ],
  "resolve": {"axis": {"x": "independent", "y": "independent"}}
 },
 {
  "title": {"text": "(d)", "dx": -6},
  "width": 302, "height": 211,
  "layer": [
   {
    "layer": [
     {"data": {"name": "d"}, "mark": {"type": "line", "strokeWidth": 1.6},
      "encoding": {
       "x": {"field": "x", "type": "quantitative", "scale": {"domain": [0, 1.4], "nice": false}, "axis": {"orient": "bottom", "values": [0,0.2,0.4,0.6,0.8,1,1.2,1.4], "labelExpr": "''+datum.value", "title": "X-coordinate [m]"}},
       "y": {"field": "y", "type": "quantitative", "scale": {"domain": [-0.1, 0.9], "nice": false}, "axis": {"orient": "left", "values": [-0.1,0,0.1,0.2,0.3,0.4,0.5,0.6,0.7,0.8,0.9], "labelExpr": "''+datum.value", "title": "Y-coordinate [m]", "titlePadding": -2}},
       "order": {"field": "t", "type": "quantitative"},
       "color": {"field": "s", "type": "nominal", "scale": {"domain": ["Reference","2DOF FOFPI-D","2DOF FPI-D","2DOF PI-D"], "range": ["#000000","#ff00ff","#00ff00","#ff0000"]}, "legend": {"title": null, "legendX": 220, "legendY": 6, "rowPadding": 0, "labelFontSize": 8, "symbolSize": 49, "symbolType": "M-3.5,0L3.5,0", "labelOffset": 9}}
      }},
     {"data": {"values": [{"x": 0.896, "y": 0.333, "x2": 1.185, "y2": 0.042}]},
      "mark": {"type": "rule", "color": "black", "strokeWidth": 1.5},
      "encoding": {
       "x": {"field": "x", "type": "quantitative", "scale": {"domain": [0, 1.4], "nice": false}, "axis": {"orient": "top", "values": [0,0.2,0.4,0.6,0.8,1,1.2,1.4], "labels": false, "domain": false, "title": null}},
       "y": {"field": "y", "type": "quantitative", "scale": {"domain": [-0.1, 0.9], "nice": false}, "axis": {"orient": "right", "values": [-0.1,0,0.1,0.2,0.3,0.4,0.5,0.6,0.7,0.8,0.9], "labels": false, "domain": false, "title": null}},
       "x2": {"field": "x2"}, "y2": {"field": "y2"}
      }}
    ],
    "resolve": {"axis": {"x": "independent", "y": "independent"}}
   },
   {
    "layer": [
     {"data": {"values": [{"x": 1.199057, "x2": 1.199131, "y": 0.040256, "y2": 0.041099}]},
      "mark": {"type": "rect", "fill": "white", "stroke": "black", "strokeWidth": 1.5},
      "encoding": {
       "x": {"field": "x", "type": "quantitative", "scale": {"domain": [1.199057, 1.199131], "range": [118, 189], "nice": false, "zero": false}, "axis": null},
       "x2": {"field": "x2"},
       "y": {"field": "y", "type": "quantitative", "scale": {"domain": [0.040256, 0.041099], "range": [127.3, 90.7], "nice": false, "zero": false}, "axis": null},
       "y2": {"field": "y2"}
      }},
     {"data": {"values": [
       {"x": 1.199057, "y": 0.040947, "s": "Reference"}, {"x": 1.199131, "y": 0.040885, "s": "Reference"},
       {"x": 1.199057, "y": 0.04087, "s": "2DOF FOFPI-D"}, {"x": 1.199131, "y": 0.040832, "s": "2DOF FOFPI-D"},
       {"x": 1.199057, "y": 0.040694, "s": "2DOF FPI-D"}, {"x": 1.199131, "y": 0.040616, "s": "2DOF FPI-D"},
       {"x": 1.199057, "y": 0.040362, "s": "2DOF PI-D"}, {"x": 1.199131, "y": 0.040309, "s": "2DOF PI-D"}
      ]},
      "mark": {"type": "line", "strokeWidth": 1.6},
      "encoding": {
       "x": {"field": "x", "type": "quantitative", "scale": {"domain": [1.199057, 1.199131], "range": [118, 189], "nice": false, "zero": false}, "axis": null},
       "y": {"field": "y", "type": "quantitative", "scale": {"domain": [0.040256, 0.041099], "range": [127.3, 90.7], "nice": false, "zero": false}, "axis": null},
       "color": {"field": "s", "type": "nominal", "legend": null}
      }},
     {"data": {"values": [{"x": 1.19908, "y": 0.040256, "label": "1.1991"}, {"x": 1.19912, "y": 0.040256, "label": "1.1991"}]},
      "mark": {"type": "text", "align": "center", "baseline": "top", "dy": 3},
      "encoding": {
       "x": {"field": "x", "type": "quantitative", "scale": {"domain": [1.199057, 1.199131], "range": [118, 189], "nice": false, "zero": false}, "axis": null},
       "y": {"field": "y", "type": "quantitative", "scale": {"domain": [0.040256, 0.041099], "range": [127.3, 90.7], "nice": false, "zero": false}, "axis": null},
       "text": {"field": "label"}
      }},
     {"data": {"values": [{"x": 1.199057, "y": 0.0405, "label": "0.0405"}, {"x": 1.199057, "y": 0.041, "label": "0.041"}]},
      "mark": {"type": "text", "align": "right", "baseline": "middle", "dx": -3},
      "encoding": {
       "x": {"field": "x", "type": "quantitative", "scale": {"domain": [1.199057, 1.199131], "range": [118, 189], "nice": false, "zero": false}, "axis": null},
       "y": {"field": "y", "type": "quantitative", "scale": {"domain": [0.040256, 0.041099], "range": [127.3, 90.7], "nice": false, "zero": false}, "axis": null},
       "text": {"field": "label"}
      }}
    ]
   }
  ],
  "resolve": {"scale": {"x": "independent", "y": "independent"}}
 }
]
}
